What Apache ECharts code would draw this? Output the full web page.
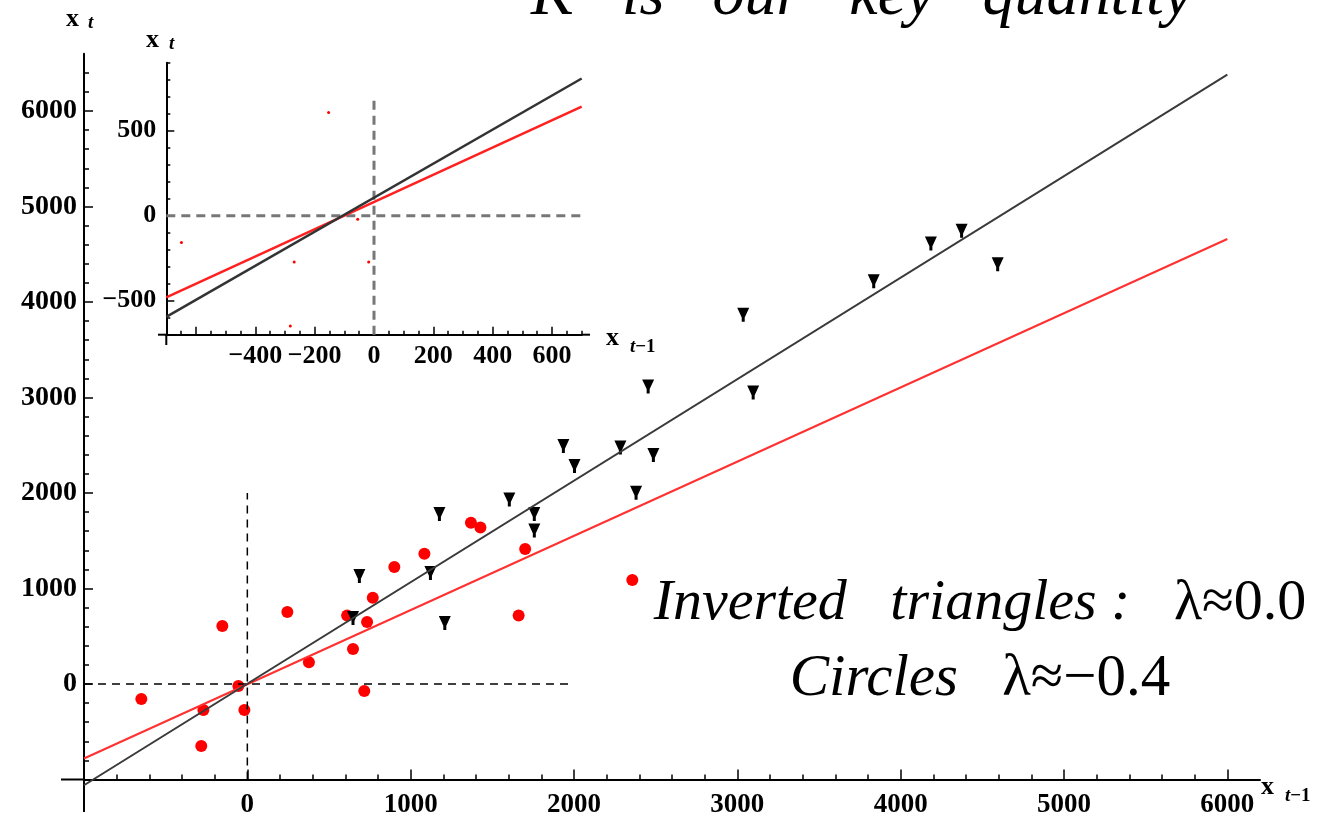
<!DOCTYPE html>
<html lang="en">
<head>
<meta charset="UTF-8">
<title>x_t against x_t-1</title>
<script src="https://cdn.jsdelivr.net/npm/echarts@6/dist/echarts.min.js"></script>
<style>
  html, body { margin: 0; padding: 0; background: #fff; }
  #main { width: 1332px; height: 819px; }
</style>
</head>
<body>
<div id="main"></div>
<script>
// circles (lambda ~ -0.4): [x_{t-1}, x_t]
var circles = [[-649,-157],[-269,-272],[-282,-649],[-153,607],[-55,-21],[-18,-272],
  [245,754],[377,227],[611,717],[647,366],[733,649],[716,-73],[768,904],[900,1225],
  [1084,1365],[1369,1688],[1427,1639],[1701,1413],[1661,717],[2357,1089]];
// inverted triangles (lambda ~ 0.0)
var triangles = [[686,1131],[647,691],[1121,1162],[1176,1780],[1209,639],[1604,1933],
  [1757,1780],[1757,1607],[1935,2492],[2003,2283],[2284,2476],[2486,2398],[2380,2003],
  [2454,3116],[3036,3866],[3097,3053],[3835,4216],[4185,4612],[4373,4745],[4594,4394]];
// fitted lines, main panel and inset
var blackFit = [[-1000,-1060],[6000,6380]];
var redFit = [[-1000,-780],[6000,4660]];
var insetBlackFit = [[-700,-595],[700,807]];
var insetRedFit = [[-700,-480],[700,641]];
// dashed zero lines
var zeroH = [[-1000,0],[2000,0]];
var zeroV = [[0,-1000],[0,2000]];
var insetZeroH = [[-700,0],[700,0]];
var insetZeroV = [[0,-700],[0,700]];
// ticks
var mainXTicks = [0,1000,2000,3000,4000,5000,6000];
var mainYTicks = [0,1000,2000,3000,4000,5000,6000];
var insetXTicks = [-600,-400,-200,0,200,400,600];
var insetXLabels = [-400,-200,0,200,400,600];
var insetYTicks = [-500,0,500];

var serif = '"Liberation Serif", "Times New Roman", serif';
function fmt(v) { return v < 0 ? '\u2212' + (-v) : String(v); }
var insetCircles = circles.filter(function (p) { return p[0] < 0; });

var chart = echarts.init(document.getElementById('main'));

function lineSeries(data, color, width, xi, dash) {
  return {
    type: 'line', data: data, xAxisIndex: xi, yAxisIndex: xi,
    showSymbol: false, symbol: 'none', silent: true, clip: false,
    lineStyle: { color: color, width: width, type: dash || 'solid' }
  };
}
var axisLineStyle = { color: '#000', width: 2 };
var tickStyle = { color: '#000', width: 1.5 };
var labelStyle = { color: '#000', fontFamily: serif, fontWeight: 'bold' };
var subRich = {
  a: { font: 'italic bold 19px ' + serif, fill: '#000' },
  b: { font: 'bold 19px ' + serif, fill: '#000' }
};

var option = {
  backgroundColor: '#fff',
  animation: false,
  grid: [
    { left: 84, right: 72, top: 53.7, bottom: 39.5 },
    { left: 166.3, width: 415.4, top: 62.7, height: 272 }
  ],
  xAxis: [
    { gridIndex: 0, type: 'value', min: -1000, max: 6200, interval: 1000,
      axisLine: { onZero: false, lineStyle: axisLineStyle },
      axisTick: { inside: true, length: 10, customValues: mainXTicks, lineStyle: tickStyle },
      minorTick: { show: true, splitNumber: 5, length: 5, lineStyle: tickStyle },
      axisLabel: Object.assign({ customValues: mainXTicks, formatter: fmt, margin: 12, fontSize: 27 }, labelStyle),
      splitLine: { show: false } },
    { gridIndex: 1, type: 'value', min: -700, max: 700, interval: 50,
      axisLine: { onZero: false, lineStyle: axisLineStyle },
      axisTick: { inside: true, length: 4, lineStyle: tickStyle },
      axisLabel: { show: false }, splitLine: { show: false } },
    { gridIndex: 1, type: 'value', min: -700, max: 700, interval: 50, position: 'bottom',
      axisLine: { show: false, onZero: false },
      axisTick: { inside: true, length: 8, customValues: insetXTicks, lineStyle: tickStyle },
      axisLabel: Object.assign({ customValues: insetXLabels, formatter: fmt, margin: 9, fontSize: 26 }, labelStyle),
      splitLine: { show: false } }
  ],
  yAxis: [
    { gridIndex: 0, type: 'value', min: -1000, max: 6600, interval: 1000,
      axisLine: { onZero: false, lineStyle: axisLineStyle },
      axisTick: { inside: true, length: 9, customValues: mainYTicks, lineStyle: tickStyle },
      minorTick: { show: true, splitNumber: 5, length: 5, lineStyle: tickStyle },
      axisLabel: Object.assign({ customValues: mainYTicks, formatter: fmt, margin: 7, fontSize: 28 }, labelStyle),
      splitLine: { show: false } },
    { gridIndex: 1, type: 'value', min: -700, max: 900, interval: 100,
      axisLine: { onZero: false, lineStyle: axisLineStyle },
      axisTick: { inside: true, length: 4, lineStyle: tickStyle },
      axisLabel: { show: false }, splitLine: { show: false } },
    { gridIndex: 1, type: 'value', min: -700, max: 900, interval: 100, position: 'left',
      axisLine: { show: false, onZero: false },
      axisTick: { inside: true, length: 8, customValues: insetYTicks, lineStyle: tickStyle },
      axisLabel: Object.assign({ customValues: insetYTicks, formatter: fmt, margin: 10, fontSize: 26 }, labelStyle),
      splitLine: { show: false } }
  ],
  series: [
    lineSeries(zeroH, '#000', 1.5, 0, [8, 6]),
    lineSeries(zeroV, '#000', 1.5, 0, [8, 6]),
    { type: 'scatter', data: circles, xAxisIndex: 0, yAxisIndex: 0,
      symbol: 'circle', symbolSize: 12, itemStyle: { color: '#ff0000', opacity: 1 } },
    lineSeries(redFit, '#ff3030', 2, 0),
    lineSeries(blackFit, '#3a3a3a', 2, 0),
    { type: 'scatter', data: triangles, xAxisIndex: 0, yAxisIndex: 0,
      symbol: 'path://M0,0 L12,0 L7.5,9 L7.5,13 L4.5,13 L4.5,9 Z', symbolSize: [12, 14],
      itemStyle: { color: '#000', opacity: 1 } },
    lineSeries(insetZeroH, '#777', 3, 1, [9, 6]),
    lineSeries(insetZeroV, '#777', 3, 1, [9, 6]),
    lineSeries(insetRedFit, '#ff2020', 2.5, 1),
    lineSeries(insetBlackFit, '#333', 2.5, 1),
    { type: 'scatter', data: insetCircles, xAxisIndex: 1, yAxisIndex: 1,
      symbol: 'circle', symbolSize: 3, itemStyle: { color: '#ff0000', opacity: 1 } }
  ],
  graphic: [
    // small axis overhangs
    { type: 'line', shape: { x1: 61, y1: 779.5, x2: 84, y2: 779.5 }, style: { stroke: '#000', lineWidth: 2 } },
    { type: 'line', shape: { x1: 84, y1: 779.5, x2: 84, y2: 812 }, style: { stroke: '#000', lineWidth: 2 } },
    { type: 'line', shape: { x1: 158, y1: 334.7, x2: 166.3, y2: 334.7 }, style: { stroke: '#000', lineWidth: 2 } },
    { type: 'line', shape: { x1: 581.7, y1: 334.7, x2: 590, y2: 334.7 }, style: { stroke: '#000', lineWidth: 2 } },
    { type: 'line', shape: { x1: 166.3, y1: 334.7, x2: 166.3, y2: 345 }, style: { stroke: '#000', lineWidth: 2 } },
    // axis names
    { type: 'text', left: 66, top: 6, style: { text: 'x', font: 'bold 26px ' + serif, fill: '#000' } },
    { type: 'text', left: 88, top: 14, style: { text: 't', font: 'italic bold 19px ' + serif, fill: '#000' } },
    { type: 'text', left: 146, top: 27, style: { text: 'x', font: 'bold 26px ' + serif, fill: '#000' } },
    { type: 'text', left: 169, top: 35, style: { text: 't', font: 'italic bold 19px ' + serif, fill: '#000' } },
    { type: 'text', left: 1261, top: 774, style: { text: 'x', font: 'bold 26px ' + serif, fill: '#000' } },
    { type: 'text', left: 1285, top: 787, style: { text: '{a|t}{b|\u22121}', rich: subRich } },
    { type: 'text', left: 606, top: 325, style: { text: 'x', font: 'bold 26px ' + serif, fill: '#000' } },
    { type: 'text', left: 630, top: 338, style: { text: '{a|t}{b|\u22121}', rich: subRich } },
    // title (cut by the top edge) and notes
    { type: 'text', x: 531, y: -3, style: { text: 'K   is   our   key   quantity', font: 'italic 64px ' + serif,
        fill: '#000', align: 'left', verticalAlign: 'middle' } },
    { type: 'text', x: 980, y: 604, style: { text: '{i|Inverted   triangles :   }{n|\u03bb\u22480.0}', align: 'center', verticalAlign: 'middle',
        rich: { i: { font: 'italic 58px ' + serif, fill: '#000' }, n: { font: '58px ' + serif, fill: '#000' } } } },
    { type: 'text', x: 980, y: 679, style: { text: '{i|Circles   }{n|\u03bb\u2248\u22120.4}', align: 'center', verticalAlign: 'middle',
        rich: { i: { font: 'italic 59px ' + serif, fill: '#000' }, n: { font: '59px ' + serif, fill: '#000' } } } }
  ]
};
chart.setOption(option);
</script>
</body>
</html>
